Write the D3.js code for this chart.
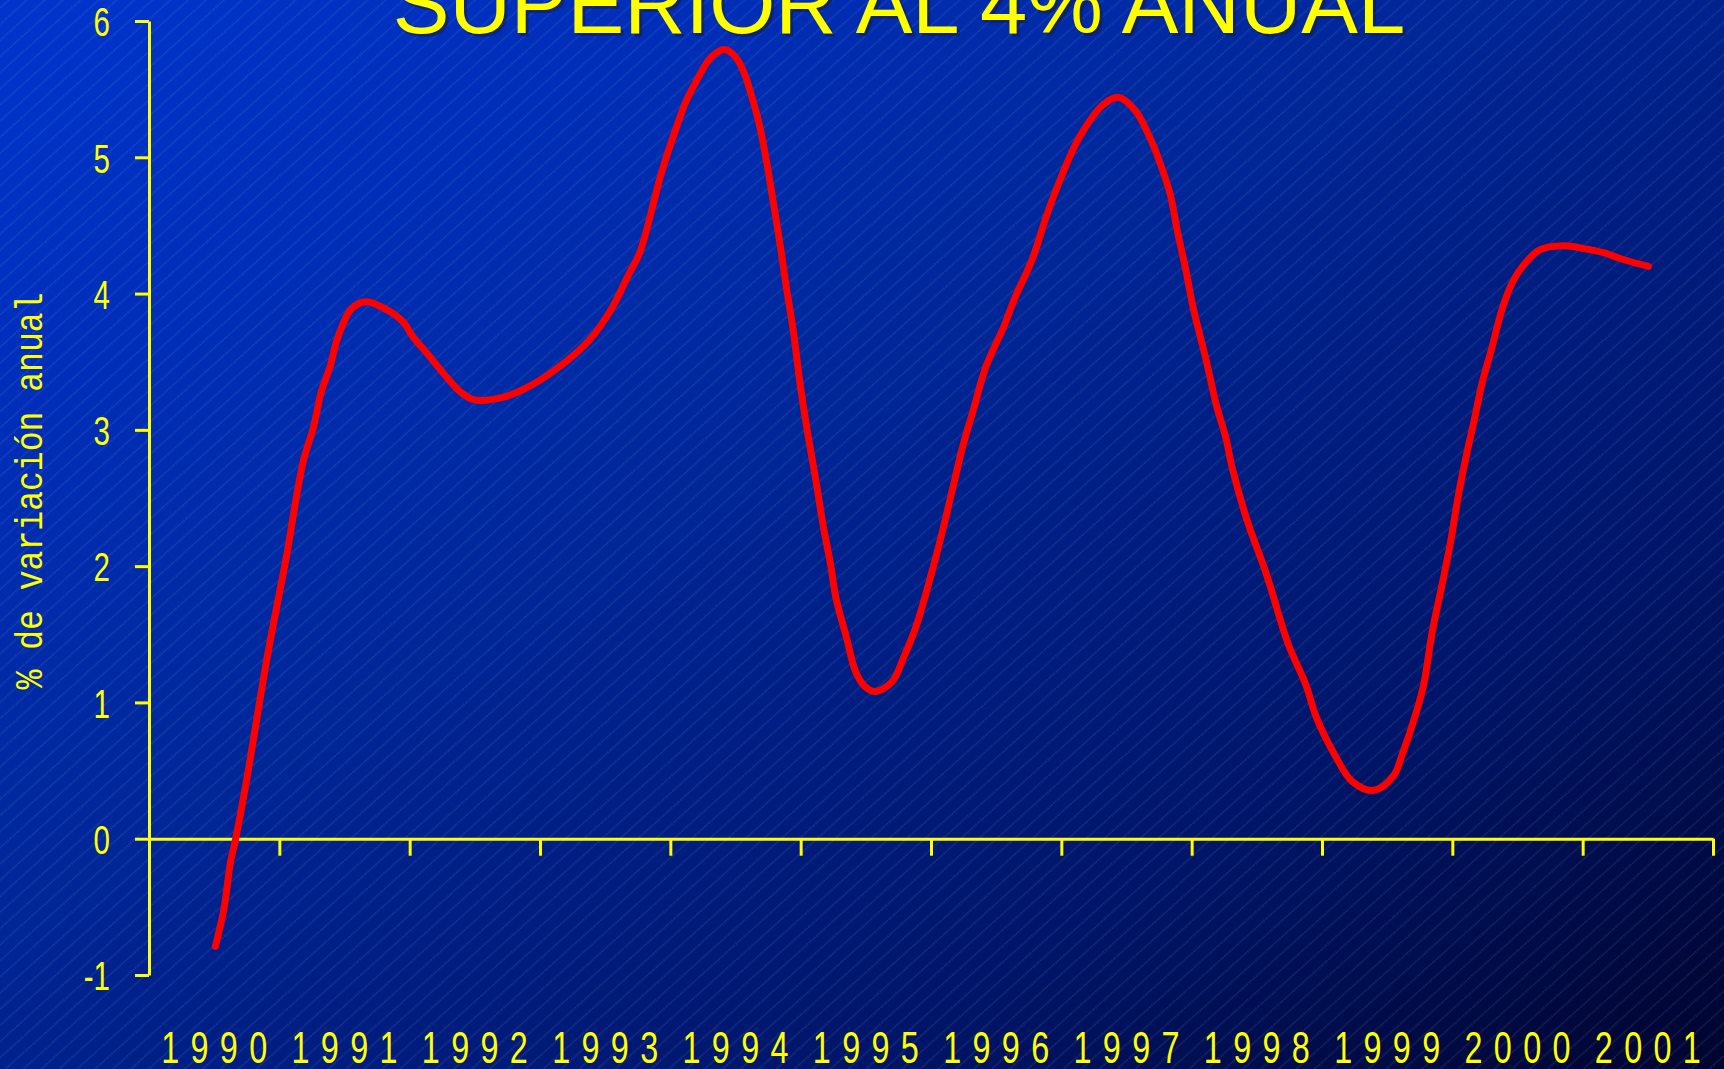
<!DOCTYPE html>
<html>
<head>
<meta charset="utf-8">
<script src="https://cdn.jsdelivr.net/npm/d3@7"></script>
<style>
  html, body { margin: 0; padding: 0; background: #001a80; overflow: hidden; }
  svg { display: block; }
</style>
</head>
<body>
<svg id="chart" width="1724" height="1069"></svg>
<script>
// ---- Data ----
const titleText = "SUPERIOR AL 4% ANUAL";
const yAxisTitle = "% de variación anual";
const yearLabels = ["1990","1991","1992","1993","1994","1995","1996","1997","1998","1999","2000","2001"];
const yTickValues = [-1, 0, 1, 2, 3, 4, 5, 6];

// time position (decimal year) of each reading
const periods = [
  1990.509,1990.574,1990.624,1990.665,1990.747,1990.829,1990.912,1990.994,
  1991.062,1991.117,1991.186,1991.262,1991.322,1991.391,1991.446,1991.555,1991.664,1991.787,1991.952,
  1992.020,1992.144,1992.280,1992.400,1992.500,1992.720,1992.880,
  1993.130,1993.380,1993.550,1993.680,1993.765,1993.930,
  1994.025,1994.120,1994.200,1994.310,1994.417,1994.505,1994.574,1994.614,1994.683,1994.738,1994.790,1994.847,1994.888,1994.943,1994.998,
  1995.053,1995.120,1995.176,1995.230,1995.270,1995.353,1995.420,1995.490,1995.573,1995.700,1995.790,1995.890,
  1996.010,1996.094,1996.176,1996.244,1996.326,1996.420,1996.560,1996.640,1996.780,1996.886,1996.997,
  1997.134,1997.326,1997.435,1997.570,1997.695,1997.753,1997.835,1997.890,1997.958,
  1998.013,1998.109,1998.190,1998.260,1998.314,1998.424,1998.574,1998.740,1998.876,1998.957,
  1999.095,1999.232,1999.397,1999.548,1999.616,1999.724,1999.780,1999.848,1999.916,1999.985,
  2000.050,2000.107,2000.163,2000.230,2000.300,2000.383,2000.465,2000.547,2000.670,2000.848,
  2001.010,2001.160,2001.310,2001.505
];
// % annual variation
const growth = [
  -0.79,-0.52,-0.18,0.00,0.42,0.89,1.36,1.77,
  2.11,2.43,2.78,3.02,3.28,3.47,3.67,3.89,3.94,3.90,3.79,
  3.69,3.55,3.39,3.27,3.22,3.24,3.30,
  3.45,3.66,3.89,4.14,4.30,4.88,
  5.16,5.41,5.56,5.73,5.79,5.73,5.60,5.48,5.24,4.97,4.67,4.33,4.06,3.73,3.32,
  2.98,2.61,2.28,2.01,1.77,1.47,1.23,1.12,1.08,1.15,1.33,1.57,
  1.97,2.28,2.61,2.88,3.15,3.46,3.76,3.96,4.26,4.57,4.85,
  5.14,5.39,5.44,5.34,5.11,4.97,4.73,4.46,4.16,
  3.89,3.52,3.18,2.95,2.71,2.34,1.94,1.43,1.13,0.89,
  0.62,0.42,0.355,0.46,0.62,0.93,1.13,1.53,1.84,2.17,
  2.54,2.81,3.05,3.35,3.59,3.89,4.09,4.21,4.32,4.35,
  4.33,4.30,4.25,4.20
];

// ---- Drawing ----
const W = 1724, H = 1069;
const svg = d3.select("#chart");
const defs = svg.append("defs");

const grad = defs.append("linearGradient")
  .attr("id", "bg").attr("x1", 0).attr("y1", 0).attr("x2", 1).attr("y2", 1);
[[0, "#0034cc"], [0.2, "#002eb8"], [0.4, "#00289c"], [0.5, "#00218c"],
 [0.75, "#001568"], [0.9, "#000a44"], [1, "#00042e"]].forEach(([o, c]) =>
  grad.append("stop").attr("offset", o).attr("stop-color", c));

const pat = defs.append("pattern")
  .attr("id", "hatch").attr("patternUnits", "userSpaceOnUse")
  .attr("width", 40).attr("height", 12)
  .attr("patternTransform", "rotate(-42)");
pat.append("line")
  .attr("x1", 0).attr("y1", 6).attr("x2", 40).attr("y2", 6)
  .attr("stroke", "#b0c0f4").attr("stroke-width", 0.8)
  .attr("stroke-opacity", 0.32)
  .attr("stroke-dasharray", "1.5,1");

svg.append("rect").attr("width", W).attr("height", H).attr("fill", "url(#bg)");
svg.append("rect").attr("width", W).attr("height", H).attr("fill", "url(#hatch)");

const x = d3.scaleLinear().domain([1990, 2002]).range([149, 1713]);
const y = d3.scaleLinear().domain([-1, 6]).range([975, 21]);

const yellow = "#ffff00";
const digitFont = "'Liberation Sans', Arial, sans-serif";
const sx = 0.72; // horizontal squeeze of the narrow digits

// title (only its last line is visible at the top edge)
svg.append("text")
  .attr("x", 902).attr("y", 36)
  .attr("text-anchor", "middle")
  .attr("font-family", "'Liberation Sans', Arial, sans-serif")
  .attr("font-size", 85)
  .attr("fill", "#1a1a40").attr("fill-opacity", 0.55)
  .text(titleText);
svg.append("text")
  .attr("x", 899).attr("y", 33)
  .attr("text-anchor", "middle")
  .attr("font-family", "'Liberation Sans', Arial, sans-serif")
  .attr("font-size", 85)
  .attr("fill", yellow)
  .text(titleText);

// Y axis
const yAxis = d3.axisLeft(y)
  .tickValues(yTickValues)
  .tickFormat(d => String(d))
  .tickSize(14).tickSizeOuter(0).tickPadding(25);
const gy = svg.append("g").attr("transform", `translate(${x(1990)},0)`).call(yAxis);
gy.select(".domain").attr("stroke", yellow).attr("stroke-width", 3);
gy.selectAll(".tick line").attr("stroke", yellow).attr("stroke-width", 3);
gy.selectAll(".tick text")
  .attr("x", 0)
  .attr("transform", `translate(-39,0) scale(${sx},1)`)
  .attr("fill", yellow)
  .attr("font-family", digitFont)
  .attr("font-size", 41)
  .attr("dy", "0.36em");

// X axis at zero
const xAxis = d3.axisBottom(x)
  .tickValues(d3.range(1991, 2003))
  .tickFormat("")
  .tickSize(17).tickSizeOuter(0);
const gx = svg.append("g").attr("transform", `translate(0,${y(0)})`).call(xAxis);
gx.select(".domain").attr("stroke", yellow).attr("stroke-width", 3);
gx.selectAll(".tick line").attr("stroke", yellow).attr("stroke-width", 3);

// year labels centred in each year interval
svg.append("g").selectAll("text")
  .data(yearLabels)
  .join("text")
  .attr("transform", d => `translate(${x(+d + 0.5)},1063) scale(${sx},1)`)
  .attr("text-anchor", "middle")
  .attr("font-family", digitFont)
  .attr("font-size", 45)
  .attr("fill", yellow)
  .attr("textLength", 106 / sx)
  .attr("lengthAdjust", "spacing")
  .text(d => d);

// Y axis title (monospace, rotated)
svg.append("text")
  .attr("transform", "translate(42,491) rotate(-90)")
  .attr("text-anchor", "middle")
  .attr("font-family", "'Liberation Mono','Courier New','DejaVu Sans Mono',monospace")
  .attr("font-size", 39)
  .attr("fill", yellow)
  .attr("textLength", 397)
  .attr("lengthAdjust", "spacingAndGlyphs")
  .text(yAxisTitle);

// the series line
const line = d3.line()
  .x((d, i) => x(periods[i]))
  .y(d => y(d))
  .curve(d3.curveCatmullRom.alpha(0.5));

svg.append("path")
  .datum(growth)
  .attr("d", line)
  .attr("fill", "none")
  .attr("stroke", "#ff0000")
  .attr("stroke-width", 7)
  .attr("stroke-linejoin", "round")
  .attr("stroke-linecap", "round");
</script>
</body>
</html>
